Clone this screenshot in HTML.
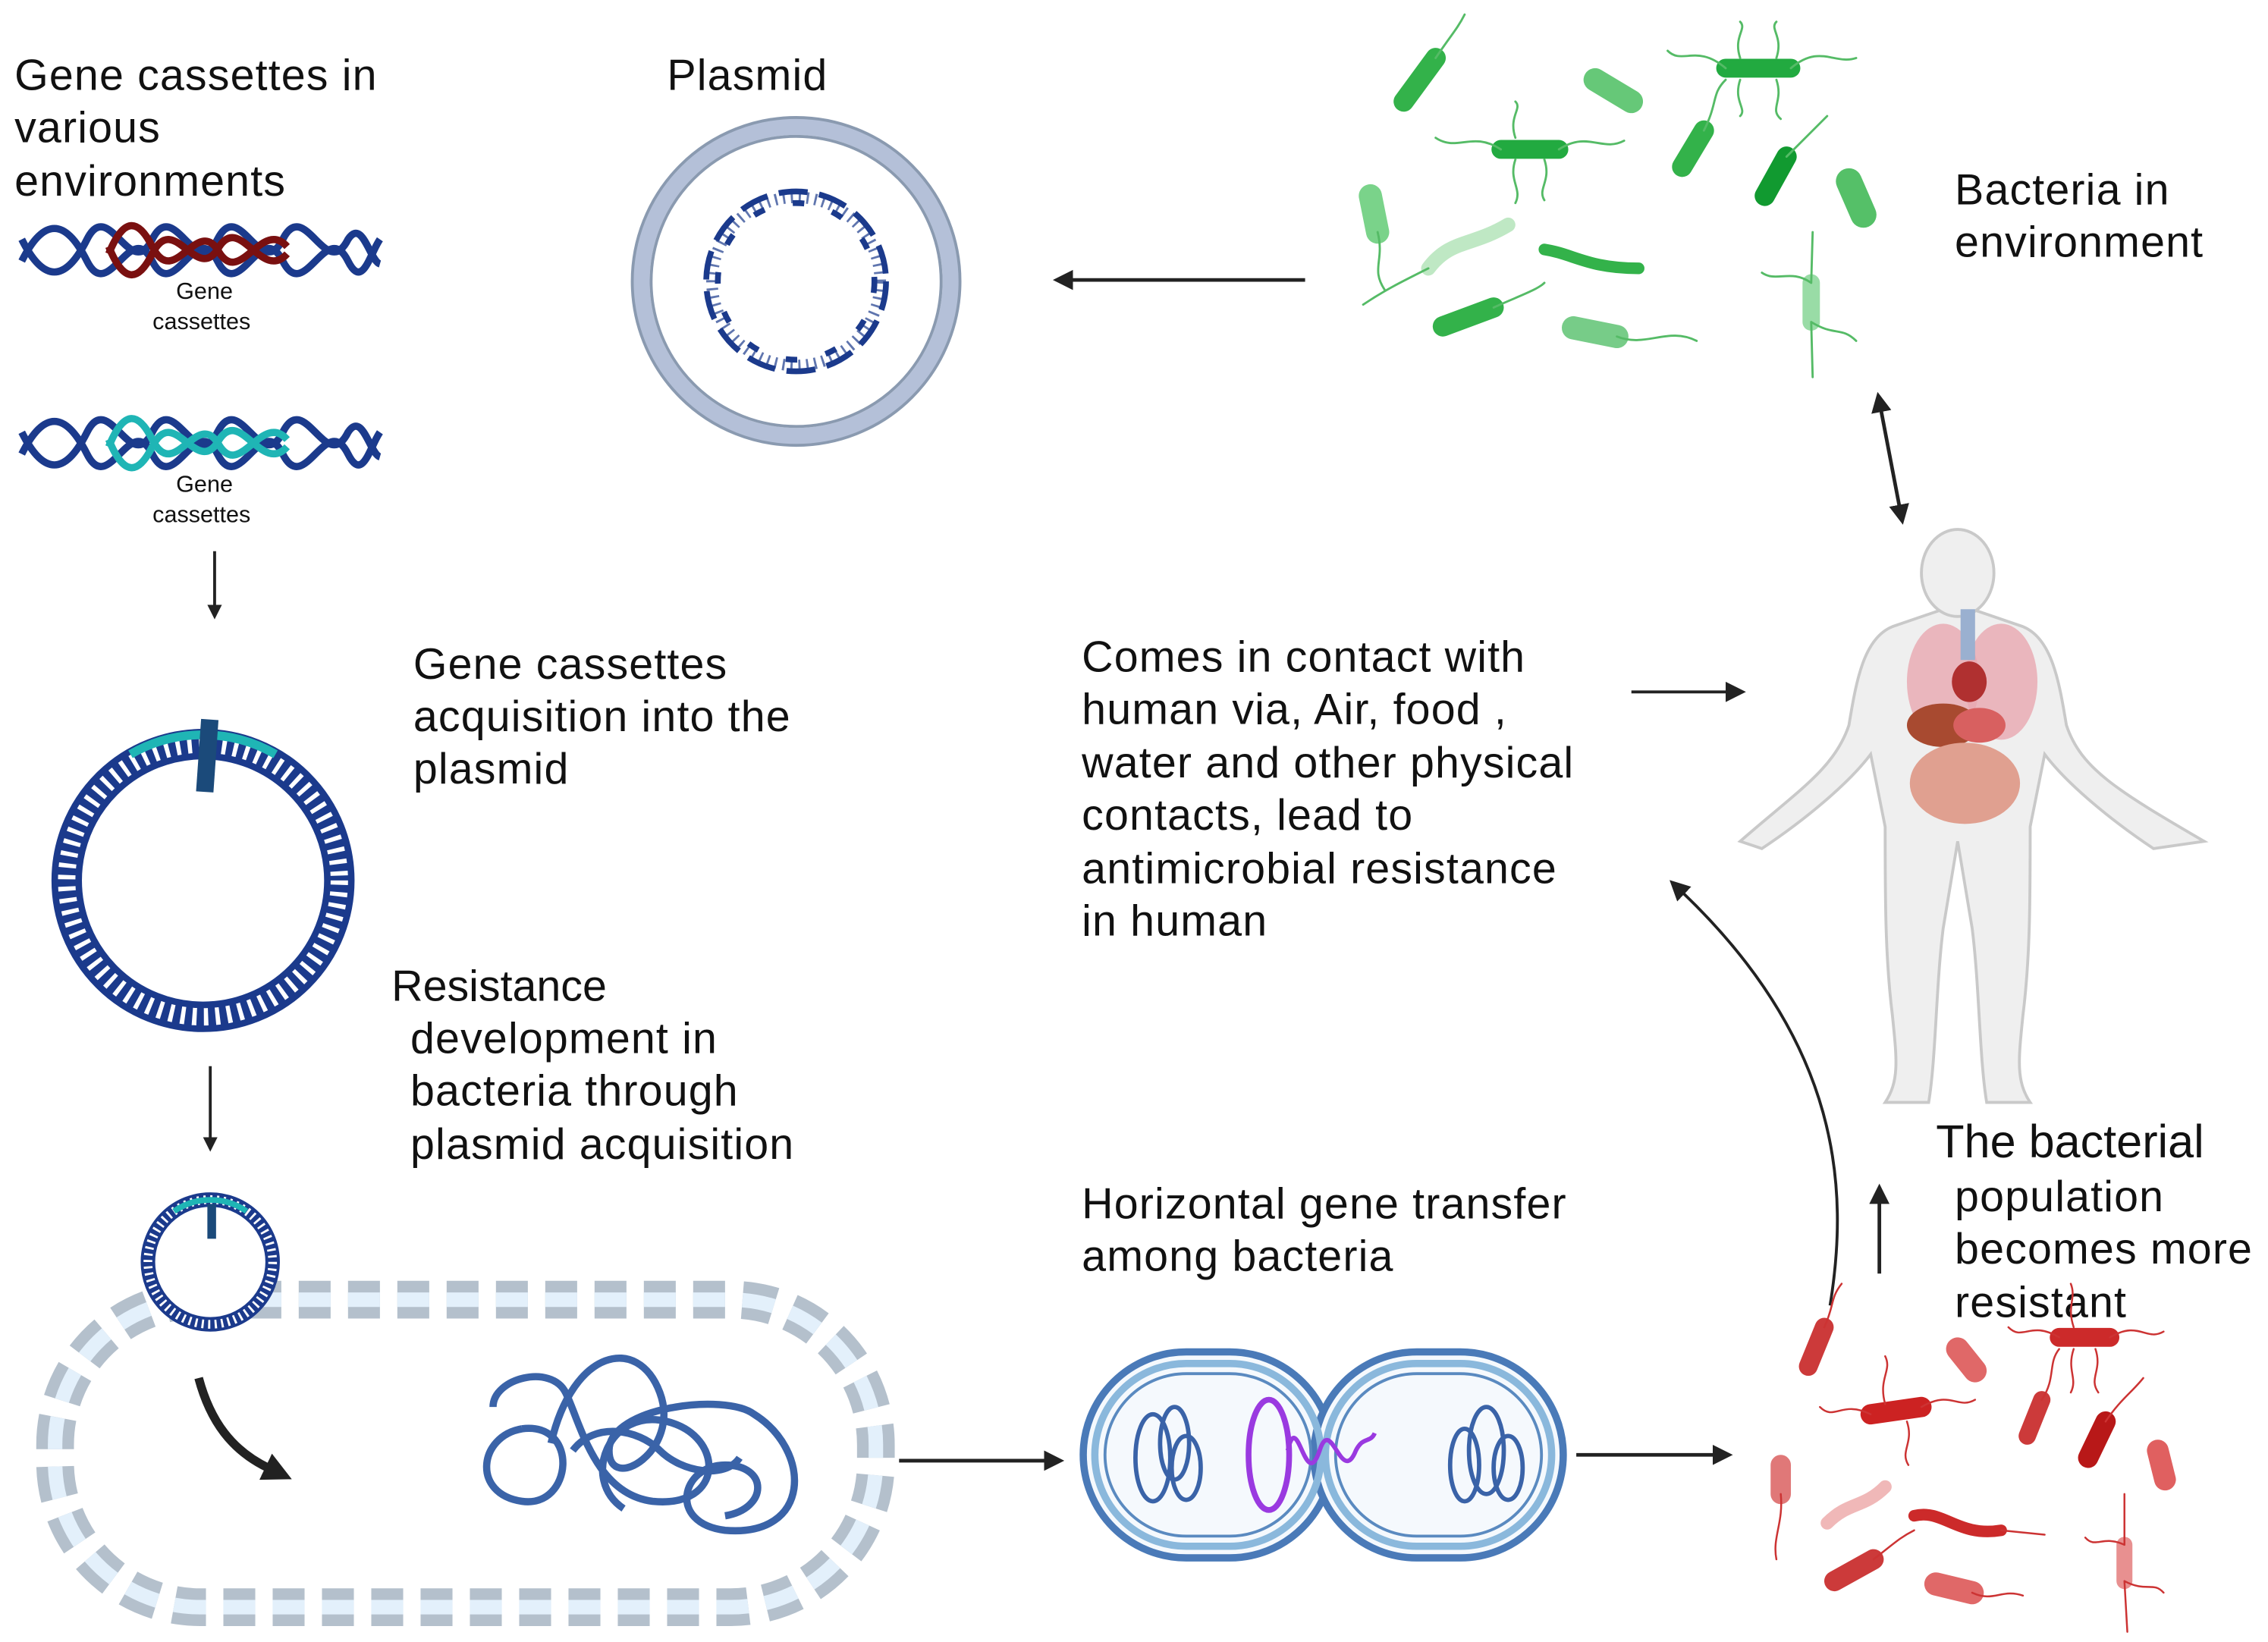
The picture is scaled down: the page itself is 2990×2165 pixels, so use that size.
<!DOCTYPE html>
<html><head><meta charset="utf-8"><style>
html,body{margin:0;padding:0;background:#fff;}
svg{display:block;}
text{font-family:"Liberation Sans",sans-serif;fill:#111;}
</style></head><body>
<svg width="2990" height="2165" viewBox="0 0 1564 1132" preserveAspectRatio="none" xmlns="http://www.w3.org/2000/svg">
<defs>
<marker id="ah" markerWidth="10" markerHeight="10" refX="8" refY="5" orient="auto" markerUnits="userSpaceOnUse" viewBox="0 0 10 10"><path d="M0,0 L10,5 L0,10 z" fill="#222"/></marker>
<marker id="ah2" markerWidth="20" markerHeight="20" refX="2" refY="10" orient="auto-start-reverse" markerUnits="userSpaceOnUse" viewBox="0 0 20 20"><path d="M0,0 L20,10 L0,20 z" fill="#222"/></marker>
<marker id="ahs" markerWidth="14" markerHeight="14" refX="2" refY="7" orient="auto-start-reverse" markerUnits="userSpaceOnUse" viewBox="0 0 14 14"><path d="M0,0 L14,7 L0,14 z" fill="#222"/></marker>
</defs>

<!-- Texts -->
<g font-size="30" letter-spacing="0.6">
<text x="10" y="62">Gene cassettes in</text>
<text x="10" y="98">various</text>
<text x="10" y="135">environments</text>
<text x="460" y="62">Plasmid</text>
<text x="1348" y="141">Bacteria in</text>
<text x="1348" y="177">environment</text>
<text x="285" y="468">Gene cassettes</text>
<text x="285" y="504">acquisition into the</text>
<text x="285" y="540">plasmid</text>
<text x="270" y="690" font-family="Liberation Serif" letter-spacing="0">Resistance</text>
<text x="283" y="726">development in</text>
<text x="283" y="762">bacteria through</text>
<text x="283" y="799">plasmid acquisition</text>
<text x="746" y="463">Comes in contact with</text>
<text x="746" y="499">human via, Air, food ,</text>
<text x="746" y="536">water and other physical</text>
<text x="746" y="572">contacts, lead to</text>
<text x="746" y="609">antimicrobial resistance</text>
<text x="746" y="645">in human</text>
<text x="746" y="840">Horizontal gene transfer</text>
<text x="746" y="876">among bacteria</text>
<text x="1335" y="798" font-family="Liberation Serif" font-size="32" letter-spacing="0">The bacterial</text>
<text x="1348" y="835">population</text>
<text x="1348" y="871">becomes more</text>
<text x="1348" y="908">resistant</text>
</g>
<g font-size="16" text-anchor="middle">
<text x="141" y="206">Gene</text><text x="139" y="227">cassettes</text>
<text x="141" y="339">Gene</text><text x="139" y="360">cassettes</text>
</g>

<!-- DNA helices -->
<g fill="none" stroke-width="5">
<path d="M15,180 C30,150 45,150 60,180 C75,210 90,150 105,180 C120,210 135,150 150,180 C165,210 180,150 195,180 C210,210 225,150 240,180 C250,200 255,175 262,165" stroke="#1b3a8c"/>
<path d="M15,165 C30,195 45,195 60,165 C75,135 90,195 105,165 C120,135 135,195 150,165 C165,135 180,195 195,165 C210,135 225,195 240,165 C250,150 255,180 262,182" stroke="#1b3a8c"/>
<path d="M75,175 C85,150 95,150 105,170 C120,200 135,150 150,172 C165,200 180,150 198,170" stroke="#7a1010"/>
<path d="M75,170 C85,195 95,195 105,175 C120,145 135,195 150,172 C165,145 180,195 198,175" stroke="#7a1010"/>
<path d="M15,313 C30,283 45,283 60,313 C75,343 90,283 105,313 C120,343 135,283 150,313 C165,343 180,283 195,313 C210,343 225,283 240,313 C250,333 255,308 262,298" stroke="#1b3a8c"/>
<path d="M15,298 C30,328 45,328 60,298 C75,268 90,328 105,298 C120,268 135,328 150,298 C165,268 180,328 195,298 C210,268 225,328 240,298 C250,283 255,313 262,315" stroke="#1b3a8c"/>
<path d="M75,308 C85,283 95,283 105,303 C120,333 135,283 150,305 C165,333 180,283 198,303" stroke="#1fb5b5"/>
<path d="M75,303 C85,328 95,328 105,308 C120,278 135,328 150,305 C165,278 180,328 198,308" stroke="#1fb5b5"/>
</g>

<!-- arrows left column -->
<line x1="148" y1="380" x2="148" y2="425" stroke="#222" stroke-width="2" marker-end="url(#ah)"/>
<line x1="145" y1="735" x2="145" y2="792" stroke="#222" stroke-width="2" marker-end="url(#ah)"/>

<!-- big ring -->
<circle cx="140" cy="607" r="94" fill="none" stroke="#1b3a8c" stroke-width="18"/>
<circle cx="140" cy="607" r="94" fill="none" stroke="#fff" stroke-width="12" stroke-dasharray="3 5"/>
<circle cx="140" cy="607" r="103" fill="none" stroke="#1b3a8c" stroke-width="3"/>
<circle cx="140" cy="607" r="85" fill="none" stroke="#1b3a8c" stroke-width="3"/>
<path d="M90,520 A100,100 0 0 1 190,520" fill="none" stroke="#1fb5b5" stroke-width="6"/>
<rect x="137" y="496" width="12" height="50" fill="#1b4a7a" transform="rotate(4 143 520)"/>

<!-- capsule -->
<rect x="38" y="896" width="566" height="212" rx="100" fill="none" stroke="#b4c0cc" stroke-width="26" stroke-dasharray="22 12"/>
<rect x="38" y="896" width="566" height="212" rx="100" fill="none" stroke="#e3f0fb" stroke-width="10" stroke-dasharray="22 12"/>
<!-- small ring -->
<circle cx="145" cy="870" r="48" fill="#fff"/>
<circle cx="145" cy="870" r="43" fill="none" stroke="#1b3a8c" stroke-width="10"/>
<circle cx="145" cy="870" r="43" fill="none" stroke="#fff" stroke-width="6" stroke-dasharray="1.5 3"/>
<path d="M120,835 A44,44 0 0 1 170,835" fill="none" stroke="#1fb5b5" stroke-width="4"/>
<rect x="143" y="830" width="6" height="24" fill="#1b4a7a"/>
<!-- curved arrow -->
<path d="M137,950 C145,980 160,1000 185,1012" fill="none" stroke="#222" stroke-width="6" marker-end="url(#ah2)"/>
<!-- tangled DNA -->
<g fill="none" stroke="#3a63a8" stroke-width="5">
<path d="M360,985 C330,990 325,1030 360,1035 C395,1040 400,980 360,985"/>
<path d="M380,995 C395,930 440,920 455,960 C470,1000 420,1030 420,1000 C420,970 500,960 520,975 C560,1000 560,1060 500,1055 C460,1050 470,1010 500,1010 C530,1010 530,1040 500,1045"/>
<path d="M340,970 C340,950 380,940 390,960 C400,980 410,1030 450,1035 C500,1040 500,990 460,980 C420,970 400,1020 430,1040"/>
<path d="M395,1000 C410,980 440,985 455,1000 C470,1015 500,1020 510,1005"/>
</g>

<!-- arrows mid-bottom -->
<line x1="620" y1="1007" x2="722" y2="1007" stroke="#222" stroke-width="2.5" marker-end="url(#ahs)"/>
<line x1="1087" y1="1003" x2="1183" y2="1003" stroke="#222" stroke-width="2.5" marker-end="url(#ahs)"/>

<!-- dividing cell -->
<g>
<rect x="747" y="932" width="172" height="142" rx="71" fill="#f5f9fd" stroke="#4a7ab8" stroke-width="5"/>
<rect x="906" y="932" width="172" height="142" rx="71" fill="#f5f9fd" stroke="#4a7ab8" stroke-width="5"/>
<rect x="755" y="940" width="156" height="126" rx="63" fill="none" stroke="#8ab8dc" stroke-width="5"/>
<rect x="914" y="940" width="156" height="126" rx="63" fill="none" stroke="#8ab8dc" stroke-width="5"/>
<rect x="762" y="947" width="142" height="112" rx="56" fill="#f5f9fd" stroke="#5a8ac0" stroke-width="2"/>
<rect x="921" y="947" width="142" height="112" rx="56" fill="#f5f9fd" stroke="#5a8ac0" stroke-width="2"/>
<g fill="none" stroke="#3a63a8" stroke-width="3">
<ellipse cx="795" cy="1005" rx="12" ry="30"/><ellipse cx="810" cy="995" rx="10" ry="25"/><ellipse cx="818" cy="1012" rx="10" ry="22"/>
<ellipse cx="1025" cy="1000" rx="12" ry="30"/><ellipse cx="1010" cy="1010" rx="10" ry="25"/><ellipse cx="1040" cy="1012" rx="10" ry="22"/>
</g>
<ellipse cx="875" cy="1003" rx="14" ry="38" fill="none" stroke="#9a3ae0" stroke-width="4"/>
<path d="M888,1000 C895,970 900,1030 910,1000 C918,975 925,1025 935,1000 C940,990 945,995 948,988" fill="none" stroke="#9a3ae0" stroke-width="3"/>
</g>

<!-- plasmid -->
<circle cx="549" cy="194" r="107" fill="#fff" stroke="#b4c0d8" stroke-width="12"/>
<circle cx="549" cy="194" r="113" fill="none" stroke="#8a9ab0" stroke-width="2"/>
<circle cx="549" cy="194" r="100" fill="none" stroke="#8a9ab0" stroke-width="2"/>
<circle cx="549" cy="194" r="62" fill="none" stroke="#1b3a8c" stroke-width="4" stroke-dasharray="20 8"/>
<circle cx="549" cy="194" r="54" fill="none" stroke="#1b3a8c" stroke-width="4" stroke-dasharray="8 20"/>
<circle cx="549" cy="194" r="58" fill="none" stroke="#1b3a8c" stroke-width="8" stroke-dasharray="1.5 4" opacity="0.7"/>

<!-- arrows top right -->
<line x1="900" y1="193" x2="738" y2="193" stroke="#222" stroke-width="2.5" marker-end="url(#ahs)"/>
<line x1="1297" y1="282" x2="1310" y2="350" stroke="#222" stroke-width="2.5" marker-start="url(#ahs)" marker-end="url(#ahs)"/>
<line x1="1125" y1="477" x2="1192" y2="477" stroke="#222" stroke-width="2" marker-end="url(#ahs)"/>
<line x1="1296" y1="878" x2="1296" y2="828" stroke="#222" stroke-width="2.5" marker-end="url(#ahs)"/>
<path d="M1262,900 C1275,820 1270,720 1160,615" fill="none" stroke="#222" stroke-width="2" marker-end="url(#ahs)"/>

<!-- human -->
<g fill="#efefef" stroke="#c9c9c9" stroke-width="2">
<path d="M1340,420 L1305,432 C1285,440 1280,470 1275,500 C1265,530 1240,545 1200,580 L1215,585 C1245,565 1275,540 1290,520 L1300,570 C1300,620 1300,660 1305,700 C1308,730 1310,745 1300,760 L1330,760 C1335,730 1335,680 1340,640 L1350,580 L1360,640 C1365,680 1365,730 1370,760 L1400,760 C1390,745 1392,730 1395,700 C1400,660 1400,620 1400,570 L1410,520 C1425,540 1455,565 1485,585 L1520,580 C1460,545 1435,530 1425,500 C1420,470 1415,440 1395,432 L1360,420 Z"/>
<ellipse cx="1350" cy="395" rx="25" ry="30"/>
</g>
<ellipse cx="1340" cy="470" rx="25" ry="40" fill="#e8a8b0" opacity="0.8"/>
<ellipse cx="1380" cy="470" rx="25" ry="40" fill="#e8a8b0" opacity="0.8"/>
<ellipse cx="1358" cy="470" rx="12" ry="14" fill="#b03030"/>
<ellipse cx="1340" cy="500" rx="25" ry="15" fill="#a84a30"/>
<ellipse cx="1365" cy="500" rx="18" ry="12" fill="#d86060"/>
<ellipse cx="1355" cy="540" rx="38" ry="28" fill="#e0a090"/>
<rect x="1352" y="420" width="10" height="35" fill="#9ab0d0"/>

<!-- bacteria green -->
<g stroke-linecap="round" fill="none">
<line x1="968" y1="70" x2="990" y2="40" stroke="#33b24a" stroke-width="14"/>
<line x1="1100" y1="55" x2="1125" y2="70" stroke="#66c878" stroke-width="16"/>
<line x1="1190" y1="47" x2="1235" y2="47" stroke="#22aa40" stroke-width="13"/>
<line x1="1035" y1="103" x2="1075" y2="103" stroke="#22aa40" stroke-width="13"/>
<line x1="1160" y1="115" x2="1175" y2="90" stroke="#33b24a" stroke-width="14"/>
<line x1="1217" y1="135" x2="1232" y2="108" stroke="#119a30" stroke-width="14"/>
<line x1="1275" y1="125" x2="1285" y2="148" stroke="#55c068" stroke-width="18"/>
<line x1="945" y1="135" x2="950" y2="160" stroke="#7ad38a" stroke-width="16"/>
<path d="M985,185 C1000,165 1015,170 1040,155" stroke="#bfe8c4" stroke-width="10"/>
<path d="M1065,172 C1085,175 1095,185 1130,185" stroke="#33b24a" stroke-width="8"/>
<line x1="995" y1="225" x2="1030" y2="212" stroke="#33b24a" stroke-width="14"/>
<line x1="1085" y1="226" x2="1115" y2="232" stroke="#77cc88" stroke-width="16"/>
<line x1="1249" y1="195" x2="1249" y2="222" stroke="#99dca6" stroke-width="12"/>
<g stroke="#55bb66" stroke-width="1.5">
<path d="M1190,47 C1170,30 1160,45 1150,35 M1235,47 C1255,30 1265,45 1280,40 M1200,40 C1195,25 1205,20 1200,15 M1225,40 C1230,25 1220,20 1225,15 M1200,55 C1195,70 1205,75 1200,80 M1225,55 C1230,70 1220,75 1228,82"/>
<path d="M1035,103 C1015,90 1005,105 990,95 M1075,103 C1095,90 1105,105 1120,97 M1045,95 C1040,80 1050,75 1045,70 M1065,110 C1070,125 1060,130 1065,138 M1045,110 C1040,125 1050,130 1045,140"/>
<path d="M1249,195 C1235,185 1225,195 1215,188 M1249,222 C1265,232 1270,225 1280,235 M1249,222 L1250,260 M1249,195 L1250,160"/>
<path d="M990,40 C1000,25 1005,20 1010,10 M1030,212 C1045,205 1060,200 1065,195 M1115,232 C1135,240 1150,225 1170,235 M1175,90 C1185,70 1180,65 1190,55 M1232,108 C1245,95 1250,90 1260,80 M950,160 C955,180 945,185 955,200 M985,185 C965,195 955,200 940,210"/>
</g>
</g>

<!-- bacteria red -->
<g stroke-linecap="round" fill="none">
<line x1="1247" y1="942" x2="1258" y2="915" stroke="#cc3a3a" stroke-width="13"/>
<line x1="1350" y1="930" x2="1362" y2="945" stroke="#e06868" stroke-width="16"/>
<line x1="1420" y1="922" x2="1455" y2="922" stroke="#cc2a2a" stroke-width="13"/>
<line x1="1290" y1="975" x2="1325" y2="970" stroke="#cc2222" stroke-width="14"/>
<line x1="1398" y1="990" x2="1408" y2="965" stroke="#cc3a3a" stroke-width="12"/>
<line x1="1440" y1="1005" x2="1452" y2="980" stroke="#b81818" stroke-width="14"/>
<line x1="1488" y1="1000" x2="1493" y2="1020" stroke="#e06060" stroke-width="15"/>
<line x1="1228" y1="1010" x2="1228" y2="1030" stroke="#e07878" stroke-width="14"/>
<path d="M1260,1050 C1275,1035 1285,1040 1300,1025" stroke="#f0b8b8" stroke-width="9"/>
<path d="M1320,1045 C1340,1040 1350,1060 1380,1055" stroke="#cc2a2a" stroke-width="8"/>
<line x1="1265" y1="1090" x2="1292" y2="1075" stroke="#cc3a3a" stroke-width="14"/>
<line x1="1335" y1="1092" x2="1360" y2="1098" stroke="#e06868" stroke-width="16"/>
<line x1="1465" y1="1065" x2="1465" y2="1090" stroke="#e89090" stroke-width="11"/>
<g stroke="#cc3333" stroke-width="1.3">
<path d="M1420,922 C1400,910 1395,925 1385,915 M1455,922 C1475,910 1480,925 1492,918 M1430,915 C1425,900 1432,895 1428,885 M1445,930 C1450,945 1440,950 1447,960 M1430,930 C1425,945 1433,950 1428,960"/>
<path d="M1290,975 C1270,965 1265,980 1255,970 M1325,970 C1345,958 1350,972 1362,965 M1300,968 C1295,950 1305,945 1300,935 M1315,980 C1320,995 1310,1000 1316,1010"/>
<path d="M1465,1065 L1465,1030 M1465,1090 L1467,1125 M1465,1065 C1450,1058 1445,1068 1438,1060 M1465,1090 C1480,1098 1485,1090 1492,1098"/>
<path d="M1258,915 C1265,900 1262,895 1270,885 M1408,965 C1418,950 1412,940 1420,930 M1452,980 C1462,965 1470,960 1478,950 M1292,1075 C1305,1065 1310,1060 1320,1055 M1360,1098 C1375,1105 1380,1095 1395,1100 M1228,1030 C1230,1050 1222,1060 1225,1075 M1380,1055 L1410,1058"/>
</g>
</g>
</svg>
</body></html>
